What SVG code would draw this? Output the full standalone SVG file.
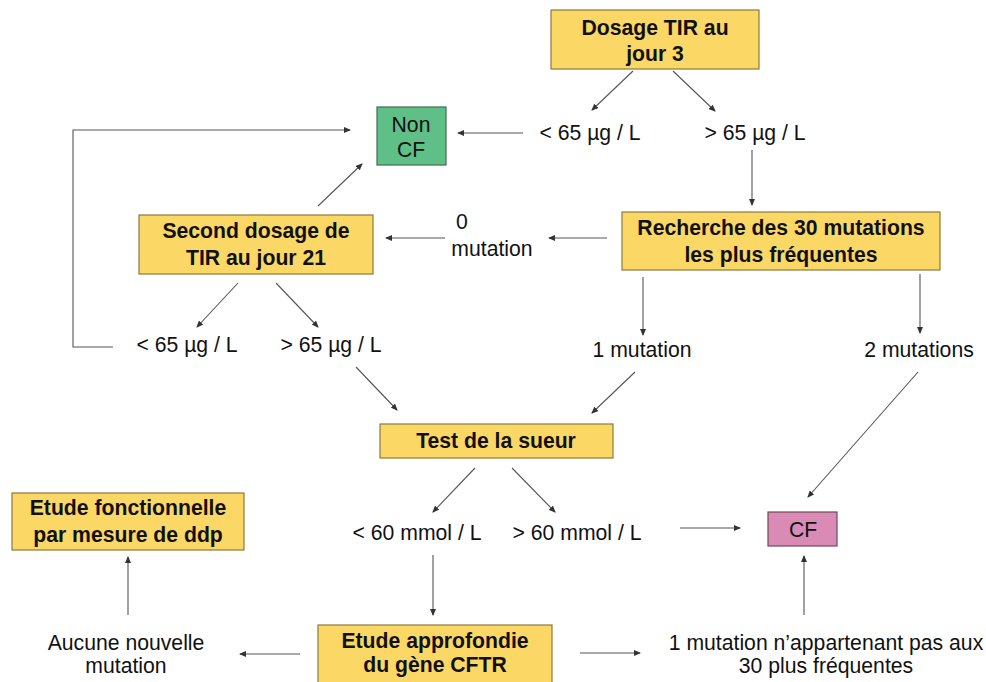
<svg xmlns="http://www.w3.org/2000/svg" width="986" height="682" viewBox="0 0 986 682">
<style>
.box{fill:#fbd866;stroke:#8c7a3a;stroke-width:1.2}
.green{fill:#5fc087;stroke:#3c6e50;stroke-width:1.2}
.pink{fill:#d98ab5;stroke:#6e4a5e;stroke-width:1.2}
.b{font-family:"Liberation Sans",Arial,sans-serif;font-weight:bold;font-size:21.2px;fill:#111;text-anchor:middle}
.t{font-family:"Liberation Sans",Arial,sans-serif;font-size:21.2px;fill:#111;text-anchor:middle}
.c path{fill:none;stroke:#555;stroke-width:1.1}
</style>
<defs>
<marker id="ah" markerWidth="7" markerHeight="6" refX="6" refY="3" orient="auto" markerUnits="userSpaceOnUse">
<path d="M0,0 L7,3 L0,6 Z" fill="#333"/>
</marker>
</defs>
<rect width="986" height="682" fill="#fff"/>
<g id="dosage-j3"><rect class="box" x="551" y="10" width="208" height="59"/><text class="b" x="655" y="35">Dosage TIR au</text><text class="b" x="655" y="61">jour 3</text></g>
<g id="non-cf"><rect class="green" x="377" y="107" width="69" height="58"/><text class="t" x="411" y="132">Non</text><text class="t" x="411" y="157">CF</text></g>
<g id="second-dosage"><rect class="box" x="139" y="215" width="234" height="59"/><text class="b" x="256" y="238">Second dosage de</text><text class="b" x="256" y="265">TIR au jour 21</text></g>
<g id="recherche"><rect class="box" x="622" y="212" width="318" height="58"/><text class="b" x="781" y="235">Recherche des 30 mutations</text><text class="b" x="781" y="262">les plus fréquentes</text></g>
<g id="test-sueur"><rect class="box" x="380" y="424" width="233" height="34"/><text class="b" x="496" y="448">Test de la sueur</text></g>
<g id="cf"><rect class="pink" x="768" y="512" width="69" height="34"/><text class="t" x="803" y="537">CF</text></g>
<g id="etude-fonct"><rect class="box" x="12" y="493" width="232" height="57"/><text class="b" x="128" y="515">Etude fonctionnelle</text><text class="b" x="128" y="542">par mesure de ddp</text></g>
<g id="etude-appr"><rect class="box" x="318" y="625" width="234" height="64"/><text class="b" x="435" y="648">Etude approfondie</text><text class="b" x="435" y="672">du gène CFTR</text></g>
<g id="lbl-lt65"><text class="t" x="590" y="140">&lt; 65 µg / L</text></g>
<g id="lbl-gt65"><text class="t" x="755" y="140">&gt; 65 µg / L</text></g>
<g id="lbl-0mut"><text class="t" x="462" y="229">0</text><text class="t" x="492" y="256">mutation</text></g>
<g id="lbl-lt65-2"><text class="t" x="187" y="352">&lt; 65 µg / L</text></g>
<g id="lbl-gt65-2"><text class="t" x="331" y="352">&gt; 65 µg / L</text></g>
<g id="lbl-1mut"><text class="t" x="642" y="357">1 mutation</text></g>
<g id="lbl-2mut"><text class="t" x="919" y="357">2 mutations</text></g>
<g id="lbl-lt60"><text class="t" x="417" y="540">&lt; 60 mmol / L</text></g>
<g id="lbl-gt60"><text class="t" x="577" y="540">&gt; 60 mmol / L</text></g>
<g id="lbl-aucune"><text class="t" x="126" y="650">Aucune nouvelle</text><text class="t" x="126" y="673">mutation</text></g>
<g id="lbl-1mut-rare"><text class="t" x="826" y="650">1 mutation n’appartenant pas aux</text><text class="t" x="826" y="673">30 plus fréquentes</text></g>
<g id="connectors" class="c">
<path d="M633,71 L592,110" marker-end="url(#ah)"/>
<path d="M673,71 L715,111" marker-end="url(#ah)"/>
<path d="M523,133 L458,133" marker-end="url(#ah)"/>
<path d="M752,150 L752,205" marker-end="url(#ah)"/>
<path d="M607,238 L549,238" marker-end="url(#ah)"/>
<path d="M445,238 L386,238" marker-end="url(#ah)"/>
<path d="M318,206 L362,164" marker-end="url(#ah)"/>
<path d="M238,283 L197,327" marker-end="url(#ah)"/>
<path d="M276,283 L318,327" marker-end="url(#ah)"/>
<path d="M113,347 L73,347 L73,130 L350,130" marker-end="url(#ah)"/>
<path d="M643,277 L643,335" marker-end="url(#ah)"/>
<path d="M920,274 L920,333" marker-end="url(#ah)"/>
<path d="M356,367 L397,410" marker-end="url(#ah)"/>
<path d="M635,372 L592,413" marker-end="url(#ah)"/>
<path d="M475,468 L433,512" marker-end="url(#ah)"/>
<path d="M512,468 L555,512" marker-end="url(#ah)"/>
<path d="M680,528 L740,528" marker-end="url(#ah)"/>
<path d="M918,372 L808,497" marker-end="url(#ah)"/>
<path d="M433,555 L433,615" marker-end="url(#ah)"/>
<path d="M300,654 L240,654" marker-end="url(#ah)"/>
<path d="M580,653 L640,653" marker-end="url(#ah)"/>
<path d="M128,615 L128,557" marker-end="url(#ah)"/>
<path d="M804,615 L804,556" marker-end="url(#ah)"/>
</g>
</svg>
